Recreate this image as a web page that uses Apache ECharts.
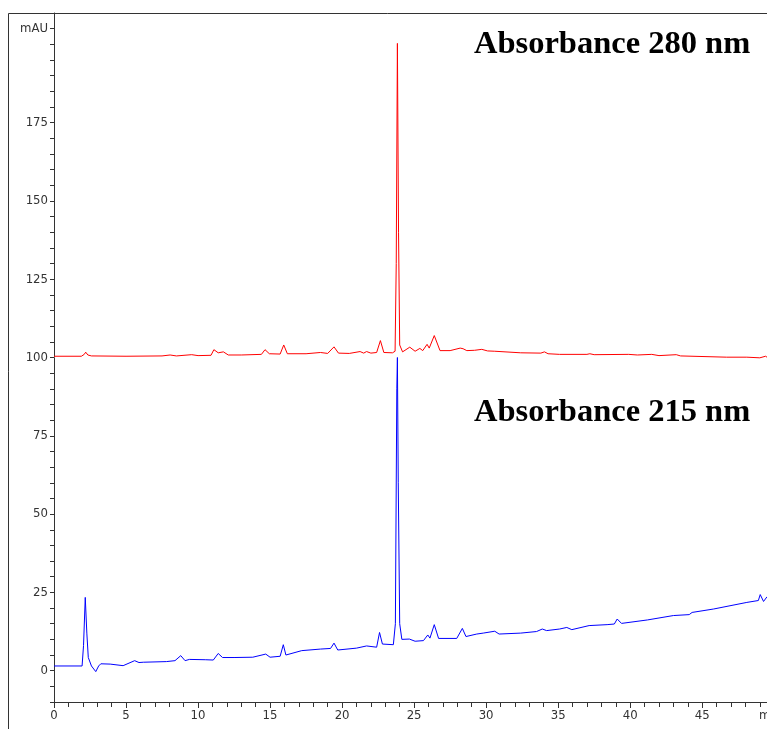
<!DOCTYPE html>
<html>
<head>
<meta charset="utf-8">
<script src="https://cdn.jsdelivr.net/npm/echarts@6/dist/echarts.min.js"></script>
<style>
html,body{margin:0;padding:0;background:#fff;}
#chart{width:767px;height:729px;}
</style>
</head>
<body>
<div id="chart"></div>
<script>
// Retention time (min) and absorbance (mAU)
var time280 = [0,1.9,2.1,2.2,2.35,2.6,5,7.5,8.06,8.5,9.56,10,10.9,11.1,11.4,11.76,12.1,13,14.4,14.65,14.95,15.7,15.95,16.2,17.5,18.5,19.0,19.44,19.75,20.5,21.25,21.5,21.7,22.0,22.4,22.66,22.9,23.5,23.68,23.76,23.84,23.92,24.0,24.2,24.7,25.07,25.4,25.6,25.9,26.05,26.4,26.8,27.5,28.2,28.4,28.66,29.2,29.7,30.1,30.6,32.4,33.8,34.05,34.3,35.1,37.0,37.2,37.5,39.9,40.5,41.5,42,43.2,43.5,46.7,48.1,49.0,49.4,49.5];
var abs280  = [100.4,100.4,101.0,101.7,100.8,100.5,100.4,100.5,100.8,100.5,100.9,100.6,100.7,102.5,101.5,101.8,100.8,100.8,101.0,102.5,101.2,101.1,104.0,101.2,101.2,101.6,101.3,103.4,101.4,101.3,101.9,101.4,101.9,101.4,101.6,105.4,101.6,101.5,102,130,200.3,140,104,101.8,103.3,102,102.9,102.2,104.2,103.0,107,102.2,102.2,103,102.8,102.2,102.3,102.6,102.1,102.0,101.5,101.4,101.8,101.2,101.0,101.0,101.2,100.9,101.0,100.8,101.0,100.6,100.9,100.5,100.1,100.1,99.9,100.4,100.1];

var time215 = [0,1.95,2.05,2.17,2.28,2.38,2.6,2.9,3.1,3.25,3.9,4.8,5.6,5.9,6.2,7.8,8.4,8.8,9.1,9.4,10.5,11.06,11.4,11.7,12.5,13.8,14.7,15.0,15.7,15.92,16.1,17.2,18.5,19.2,19.44,19.7,21.0,21.7,22.4,22.6,22.8,23.56,23.7,23.8,23.84,23.9,24.0,24.15,24.26,24.67,25.07,25.65,25.95,26.1,26.4,26.7,27.96,28.35,28.6,29.35,29.8,30.6,30.9,32.4,33.5,33.9,34.2,35.1,35.6,35.95,37.15,38.4,38.9,39.1,39.4,41.2,43.0,44.1,44.3,45.8,48.1,48.9,49.03,49.26,49.5];
var abs215  = [1.5,1.5,8,23.4,12,4.2,1.5,-0.3,1.5,2.2,2.1,1.6,3.2,2.6,2.7,2.9,3.2,4.8,3.2,3.6,3.5,3.4,5.5,4.2,4.2,4.3,5.3,4.3,4.6,8.3,5.0,6.4,6.9,7.1,8.8,6.6,7.2,7.9,7.5,12.2,8.5,8.3,15,90,100,60,15,10,9.4,10.1,9.4,9.6,11.4,10.4,14.7,10.3,10.3,13.5,10.9,11.7,12.0,12.6,11.7,12.0,12.5,13.3,12.8,13.3,13.8,13.1,14.4,14.7,14.9,16.5,15.1,16.2,17.6,17.9,18.6,19.7,21.8,22.4,24.3,22.1,23.6];

var yLabelValues = [0,25,50,75,100,125,150,175];
var yUnitLabel = 'mAU';
var xUnitLabel = 'min';
var title280 = 'Absorbance 280 nm';
var title215 = 'Absorbance 215 nm';

function pairs(t, v){ var out=[]; for(var i=0;i<t.length;i++){ out.push([t[i], v[i]]); } return out; }

var axisFont = "'Liberation Sans Narrow','DejaVu Sans Condensed','Liberation Sans',sans-serif";
var titleFont = "bold 32.5px 'Liberation Serif','DejaVu Serif',serif";
var chart = echarts.init(document.getElementById('chart'), null, {renderer:'canvas'});
chart.setOption({
  animation:false,
  backgroundColor:'#ffffff',
  grid:{left:54, right:0, top:13, bottom:27, containLabel:false},
  xAxis:{
    type:'value', min:0, max:49.5, interval:5,
    axisLine:{onZero:false, lineStyle:{color:'#333', width:1}},
    axisTick:{show:true, length:6, lineStyle:{color:'#333'}},
    minorTick:{show:true, splitNumber:5, length:5, lineStyle:{color:'#333'}},
    splitLine:{show:false},
    axisLabel:{color:'#333', fontSize:13, fontFamily:axisFont, margin:7, showMaxLabel:false,
      formatter:function(v){ return (v%5===0)? String(v) : ''; }}
  },
  yAxis:{
    type:'value', min:-10, max:210, interval:5,
    axisLine:{show:true, lineStyle:{color:'#333', width:1}},
    axisTick:{show:true, length:4, lineStyle:{color:'#333'}},
    splitLine:{show:false},
    axisLabel:{color:'#333', fontSize:13, fontFamily:axisFont, margin:6,
      formatter:function(v){
        if (yLabelValues.indexOf(v) >= 0) return String(v);
        if (v === 205) return yUnitLabel;
        return '';
      }}
  },
  series:[
    {type:'line', data:pairs(time280, abs280), showSymbol:false, symbol:'none',
      lineStyle:{color:'#ff0000', width:1}, itemStyle:{color:'#ff0000'}, z:3},
    {type:'line', data:pairs(time215, abs215), showSymbol:false, symbol:'none',
      lineStyle:{color:'#0000ff', width:1}, itemStyle:{color:'#0000ff'}, z:3}
  ],
  graphic:[
    {type:'line', shape:{x1:8.5, y1:13.5, x2:767, y2:13.5}, style:{stroke:'#333', lineWidth:1}, silent:true},
    {type:'line', shape:{x1:8.5, y1:13.5, x2:8.5, y2:729}, style:{stroke:'#333', lineWidth:1}, silent:true},
    {type:'text', left:474, top:28, style:{text:title280, fill:'#000', font:titleFont}},
    {type:'text', left:474, top:396, style:{text:title215, fill:'#000', font:titleFont}},
    {type:'text', left:759, top:709, style:{text:xUnitLabel, fill:'#333', font:"13px " + axisFont}}
  ]
});
</script>
</body>
</html>
